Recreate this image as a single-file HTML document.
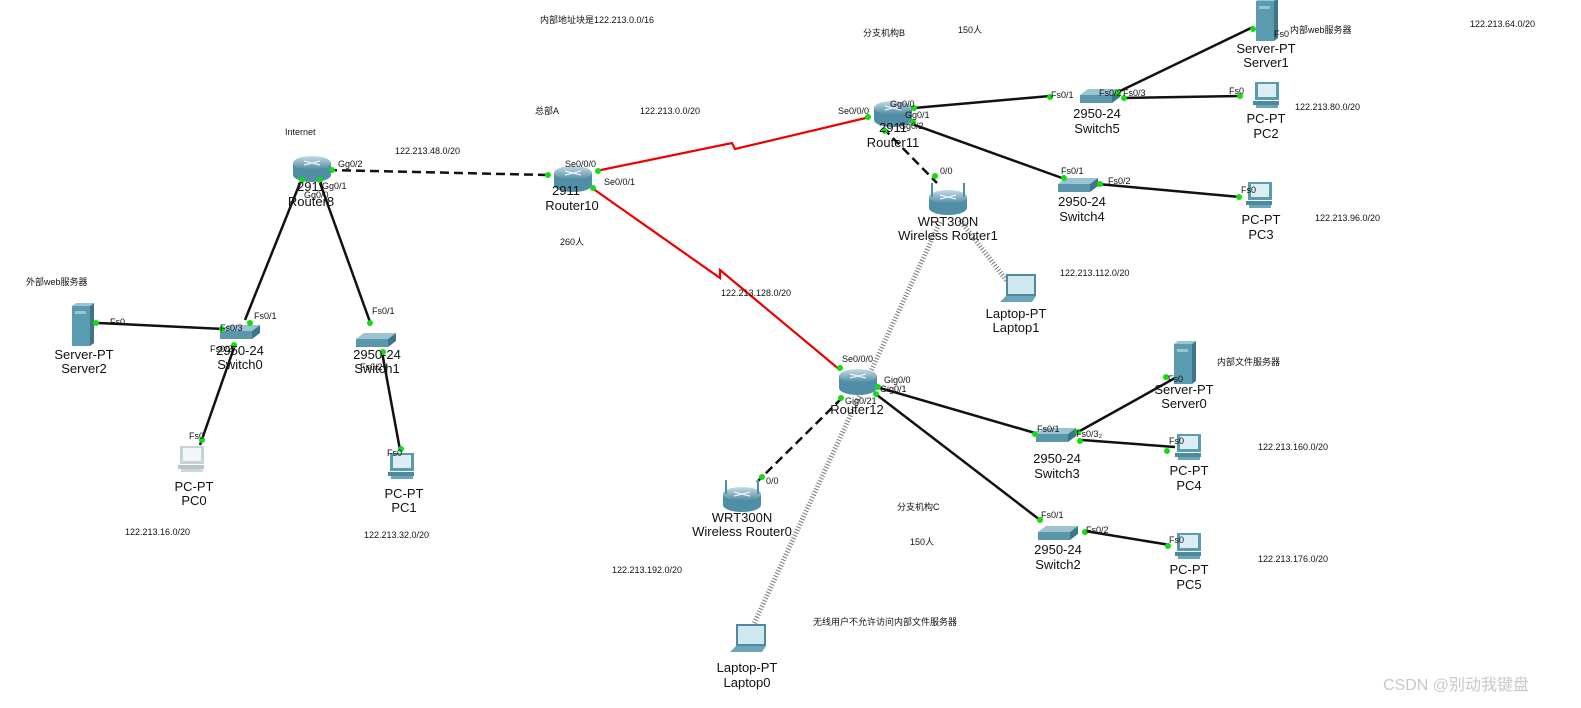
<!DOCTYPE html>
<html><head><meta charset="utf-8"><style>
html,body{margin:0;padding:0;background:#fff;}
svg{display:block;}
text{font-family:"Liberation Sans","Noto Sans CJK SC",sans-serif;}
.d{font-size:13px;fill:#111;text-anchor:middle;}
.p{font-size:9px;fill:#111;}
.n{font-size:9px;fill:#111;}
</style></head><body>
<svg width="1581" height="708" viewBox="0 0 1581 708" xmlns="http://www.w3.org/2000/svg">
<defs>
<linearGradient id="rg" x1="0" y1="0" x2="0" y2="1"><stop offset="0" stop-color="#c6dde6"/><stop offset="1" stop-color="#4d8aa0"/></linearGradient>
<g id="router"><path d="M-19,-5 L-19,7 A19,7 0 0 0 19,7 L19,-5 Z" fill="#4f8ea4"/><ellipse cx="0" cy="-5" rx="19" ry="7" fill="url(#rg)"/><path d="M-8,-7 L8,-3 M8,-7 L-8,-3" stroke="#eef" stroke-width="1.2"/></g>
<g id="wr"><path d="M-19,-2 L-19,9 A19,7 0 0 0 19,9 L19,-2 Z" fill="#4f8ea4"/><ellipse cx="0" cy="-2" rx="19" ry="7" fill="url(#rg)"/><line x1="-16" y1="-2" x2="-16" y2="-16" stroke="#4f8ea4" stroke-width="2"/><line x1="16" y1="-2" x2="16" y2="-16" stroke="#4f8ea4" stroke-width="2"/><path d="M-8,-4 L8,0 M8,-4 L-8,0" stroke="#eef" stroke-width="1.2"/></g>
<g id="sw"><path d="M-20,-2 L-12,-8 L20,-8 L12,-2 Z" fill="#9cc3d1"/><path d="M-20,-2 L12,-2 L12,6 L-20,6 Z" fill="#5a97ab"/><path d="M12,-2 L20,-8 L20,0 L12,6 Z" fill="#3b7689"/></g>
<g id="srv"><rect x="-10" y="-20" width="18" height="40" fill="#5b9bb0"/><path d="M8,-20 L12,-23 L12,17 L8,20 Z" fill="#3c7688"/><path d="M-10,-20 L-6,-23 L12,-23 L8,-20 Z" fill="#9cc3d1"/><rect x="-7" y="-15" width="11" height="3" fill="#9cc3d1"/></g>
<g id="pc"><rect x="-13" y="-14" width="24" height="18" fill="#5b9bb0"/><rect x="-10" y="-12" width="18" height="13" fill="#dbeef4"/><rect x="-15" y="5" width="26" height="4" fill="#4d8aa0"/><rect x="-12" y="9" width="22" height="3" fill="#6aa5b8"/></g>
<g id="pcw"><rect x="-13" y="-14" width="24" height="18" fill="#c5d3d8"/><rect x="-10" y="-12" width="18" height="13" fill="#f1f6f8"/><rect x="-15" y="5" width="26" height="4" fill="#b6c6cc"/><rect x="-12" y="9" width="22" height="3" fill="#ccd9dd"/></g>
<g id="lap"><rect x="-14" y="-16" width="30" height="22" fill="#4d8aa0"/><rect x="-12" y="-14" width="26" height="18" fill="#cfe7ef"/><path d="M-14,6 L16,6 L12,12 L-20,12 Z" fill="#6aa5b8"/></g>
</defs>

<g fill="none" stroke-width="2.5">
<line x1="328" y1="170" x2="548" y2="175" stroke="#111" stroke-dasharray="9,5"/>
<polyline points="596,171 732,143 735,149 870,117" stroke="#e00" stroke-width="2.2"/>
<polyline points="592,188 720,278 720,270 840,370" stroke="#e00" stroke-width="2.2"/>
<line x1="300" y1="183" x2="245" y2="320" stroke="#111"/>
<line x1="320" y1="183" x2="370" y2="322" stroke="#111"/>
<line x1="98" y1="323" x2="224" y2="329" stroke="#111"/>
<line x1="235" y1="345" x2="200" y2="445" stroke="#111"/>
<line x1="382" y1="352" x2="400" y2="450" stroke="#111"/>
<line x1="914" y1="108" x2="1050" y2="96" stroke="#111"/>
<line x1="912" y1="124" x2="1062" y2="178" stroke="#111"/>
<line x1="1118" y1="92" x2="1253" y2="27" stroke="#111"/>
<line x1="1122" y1="98" x2="1240" y2="96" stroke="#111"/>
<line x1="1098" y1="184" x2="1240" y2="197" stroke="#111"/>
<line x1="883" y1="128" x2="937" y2="183" stroke="#111" stroke-dasharray="9,5"/>
<line x1="880" y1="388" x2="1035" y2="433" stroke="#111"/>
<line x1="877" y1="395" x2="1040" y2="520" stroke="#111"/>
<line x1="1078" y1="432" x2="1175" y2="378" stroke="#111"/>
<line x1="1082" y1="440" x2="1175" y2="447" stroke="#111"/>
<line x1="1085" y1="531" x2="1170" y2="545" stroke="#111"/>
<line x1="842" y1="398" x2="757" y2="482" stroke="#111" stroke-dasharray="9,5"/>
<line x1="940" y1="222" x2="752" y2="628" stroke="#777" stroke-width="5" stroke-dasharray="1,2"/>
<line x1="960" y1="220" x2="1010" y2="285" stroke="#777" stroke-width="5" stroke-dasharray="1,2"/>
</g>

<use href="#router" x="312" y="168"/>
<use href="#router" x="573" y="178"/>
<use href="#router" x="893" y="113"/>
<use href="#router" x="858" y="381"/>
<use href="#wr" x="948" y="199"/>
<use href="#wr" x="742" y="496"/>
<use href="#sw" x="240" y="333"/>
<use href="#sw" x="376" y="341"/>
<use href="#sw" x="1100" y="97"/>
<use href="#sw" x="1078" y="186"/>
<use href="#sw" x="1056" y="436"/>
<use href="#sw" x="1058" y="534"/>
<use href="#srv" x="82" y="326"/>
<use href="#srv" x="1266" y="21"/>
<use href="#srv" x="1184" y="364"/>
<use href="#pcw" x="193" y="460"/>
<use href="#pc" x="403" y="467"/>
<use href="#pc" x="1268" y="96"/>
<use href="#pc" x="1261" y="196"/>
<use href="#pc" x="1190" y="448"/>
<use href="#pc" x="1190" y="547"/>
<use href="#lap" x="1020" y="290"/>
<use href="#lap" x="750" y="640"/>

<g fill="#1d1">
<circle cx="332" cy="170" r="3"/><circle cx="548" cy="175" r="3"/><circle cx="598" cy="171" r="3"/><circle cx="593" cy="188" r="3"/>
<circle cx="302" cy="180" r="3"/><circle cx="320" cy="180" r="3"/><circle cx="868" cy="117" r="3"/><circle cx="914" cy="108" r="3"/><circle cx="913" cy="122" r="3"/><circle cx="885" cy="131" r="3"/>
<circle cx="1050" cy="97" r="3"/><circle cx="1118" cy="93" r="3"/><circle cx="1124" cy="98" r="3"/><circle cx="1240" cy="96" r="3"/><circle cx="1253" cy="29" r="3"/>
<circle cx="1064" cy="178" r="3"/><circle cx="1100" cy="184" r="3"/><circle cx="1239" cy="197" r="3"/><circle cx="935" cy="176" r="3"/>
<circle cx="250" cy="323" r="3"/><circle cx="222" cy="329" r="3"/><circle cx="96" cy="323" r="3"/><circle cx="234" cy="345" r="3"/><circle cx="202" cy="440" r="3"/>
<circle cx="370" cy="323" r="3"/><circle cx="383" cy="352" r="3"/><circle cx="401" cy="449" r="3"/>
<circle cx="840" cy="368" r="3"/><circle cx="878" cy="387" r="3"/><circle cx="876" cy="394" r="3"/><circle cx="841" cy="398" r="3"/><circle cx="762" cy="477" r="3"/>
<circle cx="1035" cy="434" r="3"/><circle cx="1078" cy="432" r="3"/><circle cx="1080" cy="441" r="3"/><circle cx="1166" cy="377" r="3"/><circle cx="1167" cy="451" r="3"/>
<circle cx="1040" cy="520" r="3"/><circle cx="1085" cy="532" r="3"/><circle cx="1168" cy="546" r="3"/>
</g>

<text class="d" x="311" y="191">2911</text><text class="d" x="311" y="206">Router8</text>
<text class="d" x="566" y="195">2911</text><text class="d" x="572" y="210">Router10</text>
<text class="d" x="893" y="132">2911</text><text class="d" x="893" y="147">Router11</text>
<text class="d" x="857" y="414">Router12</text>
<text class="d" x="948" y="226">WRT300N</text><text class="d" x="948" y="240">Wireless Router1</text>
<text class="d" x="742" y="522">WRT300N</text><text class="d" x="742" y="536">Wireless Router0</text>
<text class="d" x="240" y="355">2950-24</text><text class="d" x="240" y="369">Switch0</text>
<text class="d" x="377" y="359">2950-24</text><text class="d" x="377" y="373">Switch1</text>
<text class="d" x="1097" y="118">2950-24</text><text class="d" x="1097" y="133">Switch5</text>
<text class="d" x="1082" y="206">2950-24</text><text class="d" x="1082" y="221">Switch4</text>
<text class="d" x="1057" y="463">2950-24</text><text class="d" x="1057" y="478">Switch3</text>
<text class="d" x="1058" y="554">2950-24</text><text class="d" x="1058" y="569">Switch2</text>
<text class="d" x="84" y="359">Server-PT</text><text class="d" x="84" y="373">Server2</text>
<text class="d" x="1266" y="53">Server-PT</text><text class="d" x="1266" y="67">Server1</text>
<text class="d" x="1184" y="394">Server-PT</text><text class="d" x="1184" y="408">Server0</text>
<text class="d" x="194" y="491">PC-PT</text><text class="d" x="194" y="505">PC0</text>
<text class="d" x="404" y="498">PC-PT</text><text class="d" x="404" y="512">PC1</text>
<text class="d" x="1266" y="123">PC-PT</text><text class="d" x="1266" y="138">PC2</text>
<text class="d" x="1261" y="224">PC-PT</text><text class="d" x="1261" y="239">PC3</text>
<text class="d" x="1189" y="475">PC-PT</text><text class="d" x="1189" y="490">PC4</text>
<text class="d" x="1189" y="574">PC-PT</text><text class="d" x="1189" y="589">PC5</text>
<text class="d" x="1016" y="318">Laptop-PT</text><text class="d" x="1016" y="332">Laptop1</text>
<text class="d" x="747" y="672">Laptop-PT</text><text class="d" x="747" y="687">Laptop0</text>

<g class="p">
<text class="p" x="338" y="167">Gg0/2</text><text class="p" x="322" y="189">Gg0/1</text><text class="p" x="304" y="198">Gg0/0</text>
<text class="p" x="565" y="167">Se0/0/0</text><text class="p" x="604" y="185">Se0/0/1</text>
<text class="p" x="838" y="114">Se0/0/0</text><text class="p" x="890" y="107">Gg0/0</text><text class="p" x="905" y="118">Gg0/1</text><text class="p" x="899" y="129">Gg0/2</text>
<text class="p" x="940" y="174">0/0</text>
<text class="p" x="1051" y="98">Fs0/1</text><text class="p" x="1099" y="96">Fs0/2</text><text class="p" x="1123" y="96">Fs0/3</text><text class="p" x="1229" y="94">Fs0</text><text class="p" x="1274" y="37">Fs0</text>
<text class="p" x="1061" y="174">Fs0/1</text><text class="p" x="1108" y="184">Fs0/2</text><text class="p" x="1241" y="193">Fs0</text>
<text class="p" x="110" y="325">Fs0</text><text class="p" x="220" y="331">Fs0/3</text><text class="p" x="254" y="319">Fs0/1</text><text class="p" x="210" y="352">Fs0/2</text><text class="p" x="189" y="439">Fs0</text>
<text class="p" x="372" y="314">Fs0/1</text><text class="p" x="360" y="370">Fs0/2</text><text class="p" x="387" y="456">Fs0</text>
<text class="p" x="842" y="362">Se0/0/0</text><text class="p" x="884" y="383">Gig0/0</text><text class="p" x="880" y="392">Gig0/1</text><text class="p" x="845" y="404">Gig0/21</text><text class="p" x="766" y="484">0/0</text>
<text class="p" x="1037" y="432">Fs0/1</text><text class="p" x="1076" y="437">Fs0/3₂</text><text class="p" x="1168" y="382">Fs0</text><text class="p" x="1169" y="444">Fs0</text>
<text class="p" x="1041" y="518">Fs0/1</text><text class="p" x="1086" y="533">Fs0/2</text><text class="p" x="1169" y="543">Fs0</text>
</g>

<g class="n">
<text class="n" x="540" y="23">内部地址块是122.213.0.0/16</text>
<text class="n" x="863" y="36">分支机构B</text>
<text class="n" x="958" y="33">150人</text>
<text class="n" x="1290" y="33">内部web服务器</text>
<text class="n" x="1470" y="27">122.213.64.0/20</text>
<text class="n" x="1295" y="110">122.213.80.0/20</text>
<text class="n" x="1315" y="221">122.213.96.0/20</text>
<text class="n" x="535" y="114">总部A</text>
<text class="n" x="640" y="114">122.213.0.0/20</text>
<text class="n" x="285" y="135">Internet</text>
<text class="n" x="395" y="154">122.213.48.0/20</text>
<text class="n" x="560" y="245">260人</text>
<text class="n" x="1060" y="276">122.213.112.0/20</text>
<text class="n" x="721" y="296">122.213.128.0/20</text>
<text class="n" x="26" y="285">外部web服务器</text>
<text class="n" x="1217" y="365">内部文件服务器</text>
<text class="n" x="1258" y="450">122.213.160.0/20</text>
<text class="n" x="897" y="510">分支机构C</text>
<text class="n" x="910" y="545">150人</text>
<text class="n" x="125" y="535">122.213.16.0/20</text>
<text class="n" x="364" y="538">122.213.32.0/20</text>
<text class="n" x="612" y="573">122.213.192.0/20</text>
<text class="n" x="1258" y="562">122.213.176.0/20</text>
<text class="n" x="813" y="625">无线用户不允许访问内部文件服务器</text>
</g>
<text x="1383" y="690" font-size="16" fill="#c8c8c8" font-family="Liberation Sans, Noto Sans CJK SC, sans-serif">CSDN @别动我键盘</text>
</svg>
</body></html>
